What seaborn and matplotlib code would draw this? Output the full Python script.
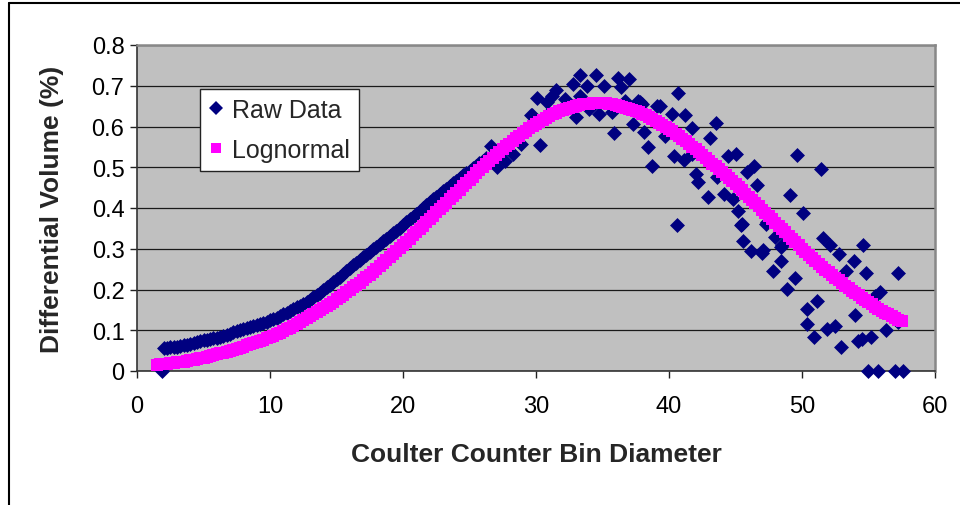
import numpy as np
import pandas as pd
import matplotlib
matplotlib.use("Agg")
import matplotlib.pyplot as plt
from matplotlib.lines import Line2D
import seaborn as sns

# ---------------- data ----------------
# Raw data: dense, smooth part (bins 1.9 .. 26.25)
raw_smooth_x = [1.9, 2.0, 2.25, 2.5, 2.75, 3.0, 3.25, 3.5, 3.75, 4.0, 4.25, 4.5, 4.75,
                5.0, 5.25, 5.5, 5.75, 6.0, 6.25, 6.5, 6.75, 7.0, 7.25, 7.5, 7.75,
                8.0, 8.25, 8.5, 8.75, 9.0, 9.25, 9.5, 9.75, 10.0, 10.25, 10.5, 10.75,
                11.0, 11.25, 11.5, 11.75, 12.0, 12.25, 12.5, 12.75, 13.0, 13.25, 13.5,
                13.75, 14.0, 14.25, 14.5, 14.75, 15.0, 15.25, 15.5, 15.75, 16.0, 16.25,
                16.5, 16.75, 17.0, 17.25, 17.5, 17.75, 18.0, 18.25, 18.5, 18.75, 19.0,
                19.25, 19.5, 19.75, 20.0, 20.25, 20.5, 20.75, 21.0, 21.25, 21.5, 21.75,
                22.0, 22.25, 22.5, 22.75, 23.0, 23.25, 23.5, 23.75, 24.0, 24.25, 24.5,
                24.75, 25.0, 25.25, 25.5, 25.75, 26.0, 26.25]
raw_smooth_y = [0.0, 0.056, 0.057, 0.058, 0.059, 0.060, 0.0615, 0.063, 0.065, 0.067,
                0.0695, 0.072, 0.0735, 0.075, 0.0765, 0.078, 0.080, 0.082, 0.0845,
                0.087, 0.0895, 0.092, 0.0945, 0.097, 0.0995, 0.102, 0.1045, 0.107,
                0.110, 0.113, 0.1155, 0.118, 0.121, 0.124, 0.1275, 0.131, 0.135, 0.139,
                0.143, 0.147, 0.1515, 0.156, 0.1605, 0.165, 0.170, 0.175, 0.1805,
                0.186, 0.1915, 0.199, 0.2055, 0.212, 0.2185, 0.225, 0.2315, 0.238,
                0.245, 0.252, 0.259, 0.266, 0.2725, 0.279, 0.2855, 0.292, 0.2985,
                0.305, 0.3115, 0.318, 0.3245, 0.331, 0.3375, 0.344, 0.351, 0.358,
                0.365, 0.372, 0.379, 0.386, 0.393, 0.400, 0.407, 0.414, 0.421, 0.428,
                0.4345, 0.441, 0.4475, 0.454, 0.4605, 0.467, 0.4735, 0.480, 0.486,
                0.492, 0.498, 0.504, 0.510, 0.516, 0.522]
# Raw data: scattered part (bins 26.6 .. 57.6)
raw_scatter_x = [26.6, 27.1, 27.7, 28.3, 28.9, 29.6, 29.7, 30.1, 30.3, 30.8, 30.8, 31.2,
                 31.5, 32.2, 32.8, 33.0, 33.3, 33.3, 33.8, 34.0, 34.5, 34.7, 35.1, 35.7,
                 35.9, 36.2, 36.4, 36.7, 37.0, 37.3, 37.7, 37.8, 38.0, 38.1, 38.4, 38.7,
                 39.1, 39.3, 39.7, 40.2, 40.4, 40.6, 40.7, 41.1, 41.2, 41.7, 41.7, 42.0,
                 42.2, 42.9, 43.1, 43.5, 43.6, 44.1, 44.4, 44.8, 45.0, 45.2, 45.4, 45.5,
                 45.6, 45.9, 46.2, 46.4, 46.6, 47.0, 47.1, 47.3, 47.4, 47.8, 48.0, 48.4,
                 48.4, 48.5, 48.9, 49.1, 49.5, 49.6, 50.1, 50.4, 50.4, 50.9, 51.1, 51.4,
                 51.6, 51.9, 52.1, 52.5, 52.8, 52.9, 53.3, 53.9, 54.0, 54.2, 54.5, 54.6,
                 54.8, 55.0, 55.2, 55.5, 55.7, 55.9, 56.3, 57.0, 57.2, 57.2, 57.6]
raw_scatter_y = [0.553, 0.500, 0.516, 0.532, 0.557, 0.627, 0.627, 0.669, 0.555, 0.627,
                 0.660, 0.676, 0.690, 0.667, 0.704, 0.623, 0.726, 0.676, 0.700, 0.643,
                 0.726, 0.631, 0.700, 0.635, 0.584, 0.718, 0.696, 0.663, 0.717, 0.606,
                 0.663, 0.661, 0.655, 0.586, 0.550, 0.504, 0.651, 0.650, 0.577, 0.631,
                 0.527, 0.358, 0.682, 0.518, 0.628, 0.596, 0.532, 0.483, 0.463, 0.426,
                 0.571, 0.609, 0.475, 0.434, 0.528, 0.422, 0.532, 0.393, 0.358, 0.361,
                 0.320, 0.488, 0.295, 0.504, 0.456, 0.290, 0.298, 0.361, 0.365, 0.246,
                 0.328, 0.271, 0.304, 0.308, 0.201, 0.432, 0.227, 0.530, 0.388, 0.152,
                 0.115, 0.083, 0.172, 0.496, 0.326, 0.103, 0.308, 0.110, 0.287, 0.058,
                 0.246, 0.271, 0.137, 0.074, 0.079, 0.309, 0.240, 0.0, 0.083, 0.185,
                 0.0, 0.195, 0.101, 0.0, 0.240, 0.120, 0.0]

# Lognormal fit (bins 1.5 .. 57.5)
logn_x = [1.5, 1.75, 2.0, 2.25, 2.5, 2.75, 3.0, 3.25, 3.5, 3.75, 4.0, 4.25, 4.5, 4.75,
          5.0, 5.25, 5.5, 5.75, 6.0, 6.25, 6.5, 6.75, 7.0, 7.25, 7.5, 7.75, 8.0, 8.25,
          8.5, 8.75, 9.0, 9.25, 9.5, 9.75, 10.0, 10.25, 10.5, 10.75, 11.0, 11.25, 11.5,
          11.75, 12.0, 12.25, 12.5, 12.75, 13.0, 13.25, 13.5, 13.75, 14.0, 14.25, 14.5,
          14.75, 15.0, 15.25, 15.5, 15.75, 16.0, 16.25, 16.5, 16.75, 17.0, 17.25, 17.5,
          17.75, 18.0, 18.25, 18.5, 18.75, 19.0, 19.25, 19.5, 19.75, 20.0, 20.25, 20.5,
          20.75, 21.0, 21.25, 21.5, 21.75, 22.0, 22.25, 22.5, 22.75, 23.0, 23.25, 23.5,
          23.75, 24.0, 24.25, 24.5, 24.75, 25.0, 25.25, 25.5, 25.75, 26.0, 26.25, 26.5,
          26.75, 27.0, 27.25, 27.5, 27.75, 28.0, 28.25, 28.5, 28.75, 29.0, 29.25, 29.5,
          29.75, 30.0, 30.25, 30.5, 30.75, 31.0, 31.25, 31.5, 31.75, 32.0, 32.25, 32.5,
          32.75, 33.0, 33.25, 33.5, 33.75, 34.0, 34.25, 34.5, 34.75, 35.0, 35.25, 35.5,
          35.75, 36.0, 36.25, 36.5, 36.75, 37.0, 37.25, 37.5, 37.75, 38.0, 38.25, 38.5,
          38.75, 39.0, 39.25, 39.5, 39.75, 40.0, 40.25, 40.5, 40.75, 41.0, 41.25, 41.5,
          41.75, 42.0, 42.25, 42.5, 42.75, 43.0, 43.25, 43.5, 43.75, 44.0, 44.25, 44.5,
          44.75, 45.0, 45.25, 45.5, 45.75, 46.0, 46.25, 46.5, 46.75, 47.0, 47.25, 47.5,
          47.75, 48.0, 48.25, 48.5, 48.75, 49.0, 49.25, 49.5, 49.75, 50.0, 50.25, 50.5,
          50.75, 51.0, 51.25, 51.5, 51.75, 52.0, 52.25, 52.5, 52.75, 53.0, 53.25, 53.5,
          53.75, 54.0, 54.25, 54.5, 54.75, 55.0, 55.25, 55.5, 55.75, 56.0, 56.25, 56.5,
          56.75, 57.0, 57.25, 57.5]
logn_y = [0.015, 0.016, 0.017, 0.018, 0.019, 0.020, 0.021, 0.022, 0.023, 0.0245, 0.026,
          0.0275, 0.029, 0.031, 0.033, 0.035, 0.037, 0.039, 0.041, 0.043, 0.045, 0.0475,
          0.050, 0.0525, 0.055, 0.0575, 0.060, 0.063, 0.066, 0.0685, 0.071, 0.074, 0.077,
          0.080, 0.083, 0.0865, 0.090, 0.094, 0.098, 0.102, 0.106, 0.1105, 0.115, 0.120,
          0.125, 0.1295, 0.134, 0.139, 0.144, 0.149, 0.154, 0.1595, 0.165, 0.1705, 0.176,
          0.1815, 0.187, 0.193, 0.199, 0.205, 0.211, 0.217, 0.223, 0.2295, 0.236, 0.243,
          0.250, 0.257, 0.264, 0.2715, 0.279, 0.2865, 0.294, 0.3015, 0.309, 0.317, 0.325,
          0.333, 0.341, 0.349, 0.357, 0.365, 0.373, 0.381, 0.389, 0.397, 0.405, 0.413,
          0.421, 0.429, 0.437, 0.445, 0.453, 0.461, 0.469, 0.477, 0.485, 0.4925, 0.500,
          0.5075, 0.515, 0.5225, 0.530, 0.537, 0.544, 0.551, 0.558, 0.5645, 0.571, 0.5775,
          0.584, 0.590, 0.596, 0.6015, 0.607, 0.612, 0.617, 0.6215, 0.626, 0.630, 0.634,
          0.6375, 0.641, 0.6435, 0.646, 0.6485, 0.651, 0.6525, 0.654, 0.655, 0.656,
          0.6565, 0.657, 0.657, 0.657, 0.6565, 0.656, 0.6545, 0.653, 0.651, 0.649,
          0.6465, 0.644, 0.641, 0.638, 0.6345, 0.631, 0.627, 0.623, 0.6185, 0.614, 0.609,
          0.604, 0.599, 0.594, 0.588, 0.582, 0.576, 0.570, 0.5635, 0.557, 0.5505, 0.544,
          0.537, 0.530, 0.523, 0.516, 0.509, 0.502, 0.495, 0.488, 0.4805, 0.473, 0.4655,
          0.458, 0.4505, 0.443, 0.4355, 0.428, 0.420, 0.412, 0.404, 0.396, 0.388, 0.380,
          0.372, 0.364, 0.356, 0.348, 0.340, 0.332, 0.324, 0.316, 0.308, 0.300, 0.2925,
          0.285, 0.2775, 0.270, 0.263, 0.256, 0.249, 0.242, 0.2355, 0.229, 0.2225, 0.216,
          0.2095, 0.203, 0.197, 0.191, 0.1855, 0.180, 0.1745, 0.169, 0.1635, 0.158,
          0.153, 0.148, 0.1435, 0.139, 0.1345, 0.130, 0.126, 0.122]

x_ticks = [0, 10, 20, 30, 40, 50, 60]
y_ticks = [0, 0.1, 0.2, 0.3, 0.4, 0.5, 0.6, 0.7, 0.8]
y_tick_labels = ["0", "0.1", "0.2", "0.3", "0.4", "0.5", "0.6", "0.7", "0.8"]
series_names = ["Raw Data", "Lognormal"]
x_label = "Coulter Counter Bin Diameter"
y_label = "Differential Volume (%)"

# ---------------- style ----------------
sns.set_theme(style="white")
plt.rcParams["font.family"] = ["Liberation Sans", "DejaVu Sans"]

NAVY = "#000080"
MAGENTA = "#FF00FF"

fig = plt.figure(figsize=(9.6, 5.06), dpi=100)
fig.patch.set_facecolor("white")
ax = fig.add_axes([137 / 960, 1 - 372 / 506, (935 - 137) / 960, (372 - 46) / 506])
ax.set_facecolor("#C0C0C0")

raw_df = pd.DataFrame({"x": raw_smooth_x + raw_scatter_x,
                       "y": raw_smooth_y + raw_scatter_y})
log_df = pd.DataFrame({"x": logn_x, "y": logn_y})

sns.scatterplot(data=raw_df, x="x", y="y", marker="D", s=58, color=NAVY,
                linewidth=0, ax=ax, zorder=3, legend=False, clip_on=False)
sns.scatterplot(data=log_df, x="x", y="y", marker="s", s=66, color=MAGENTA,
                linewidth=0, ax=ax, zorder=4, legend=False, clip_on=False)

ax.set_xlim(0, 60)
ax.set_ylim(0, 0.8)
ax.set_xticks(x_ticks)
ax.set_xticklabels([str(t) for t in x_ticks])
ax.set_yticks(y_ticks)
ax.set_yticklabels(y_tick_labels)
ax.tick_params(axis="both", which="both", direction="out", length=5, width=1,
               color="#222222", labelsize=17, labelcolor="black", pad=4,
               bottom=True, left=True)
ax.tick_params(axis="x", pad=12)
ax.grid(False)
ax.yaxis.grid(True, color="#1a1a1a", linewidth=0.9)
ax.set_axisbelow(True)

for side in ["left", "bottom"]:
    ax.spines[side].set_color("#333333")
    ax.spines[side].set_linewidth(1.2)
for side in ["top", "right"]:
    ax.spines[side].set_color("#888888")
    ax.spines[side].set_linewidth(1.8)
    ax.spines[side].set_visible(True)

ax.set_xlabel(x_label, fontsize=19, fontweight="bold", va="center")
ax.set_ylabel(y_label, fontsize=19, fontweight="bold", va="center")
ax.xaxis.set_label_coords(0.5, (372 - 455) / 326)
ax.yaxis.set_label_coords((52 - 137) / 798, 0.5)

handles = [
    Line2D([], [], linestyle="none", marker="D", markersize=7.2,
           markerfacecolor=NAVY, markeredgewidth=0),
    Line2D([], [], linestyle="none", marker="s", markersize=7.8,
           markerfacecolor=MAGENTA, markeredgewidth=0),
]
leg = ax.legend(handles, series_names, loc="upper left",
                bbox_to_anchor=((200 - 137) / 798, (372 - 90) / 326),
                borderaxespad=0, frameon=True, fancybox=False, shadow=False,
                fontsize=18, borderpad=0.35, handlelength=0.6,
                handletextpad=0.35, labelspacing=0.65, framealpha=1)
leg.set_zorder(10)
leg.get_frame().set_edgecolor("#222222")
leg.get_frame().set_linewidth(1.0)
leg.get_frame().set_facecolor("white")

# outer chart-area border (cropped on the right and bottom)
fig.add_artist(Line2D([9 / 960, 1.0], [1 - 4 / 506, 1 - 4 / 506],
                      color="black", linewidth=1.5, transform=fig.transFigure))
fig.add_artist(Line2D([9 / 960, 9 / 960], [0.0, 1 - 4 / 506],
                      color="black", linewidth=1.5, transform=fig.transFigure))

fig.savefig("out.png", dpi=100, facecolor="white")
